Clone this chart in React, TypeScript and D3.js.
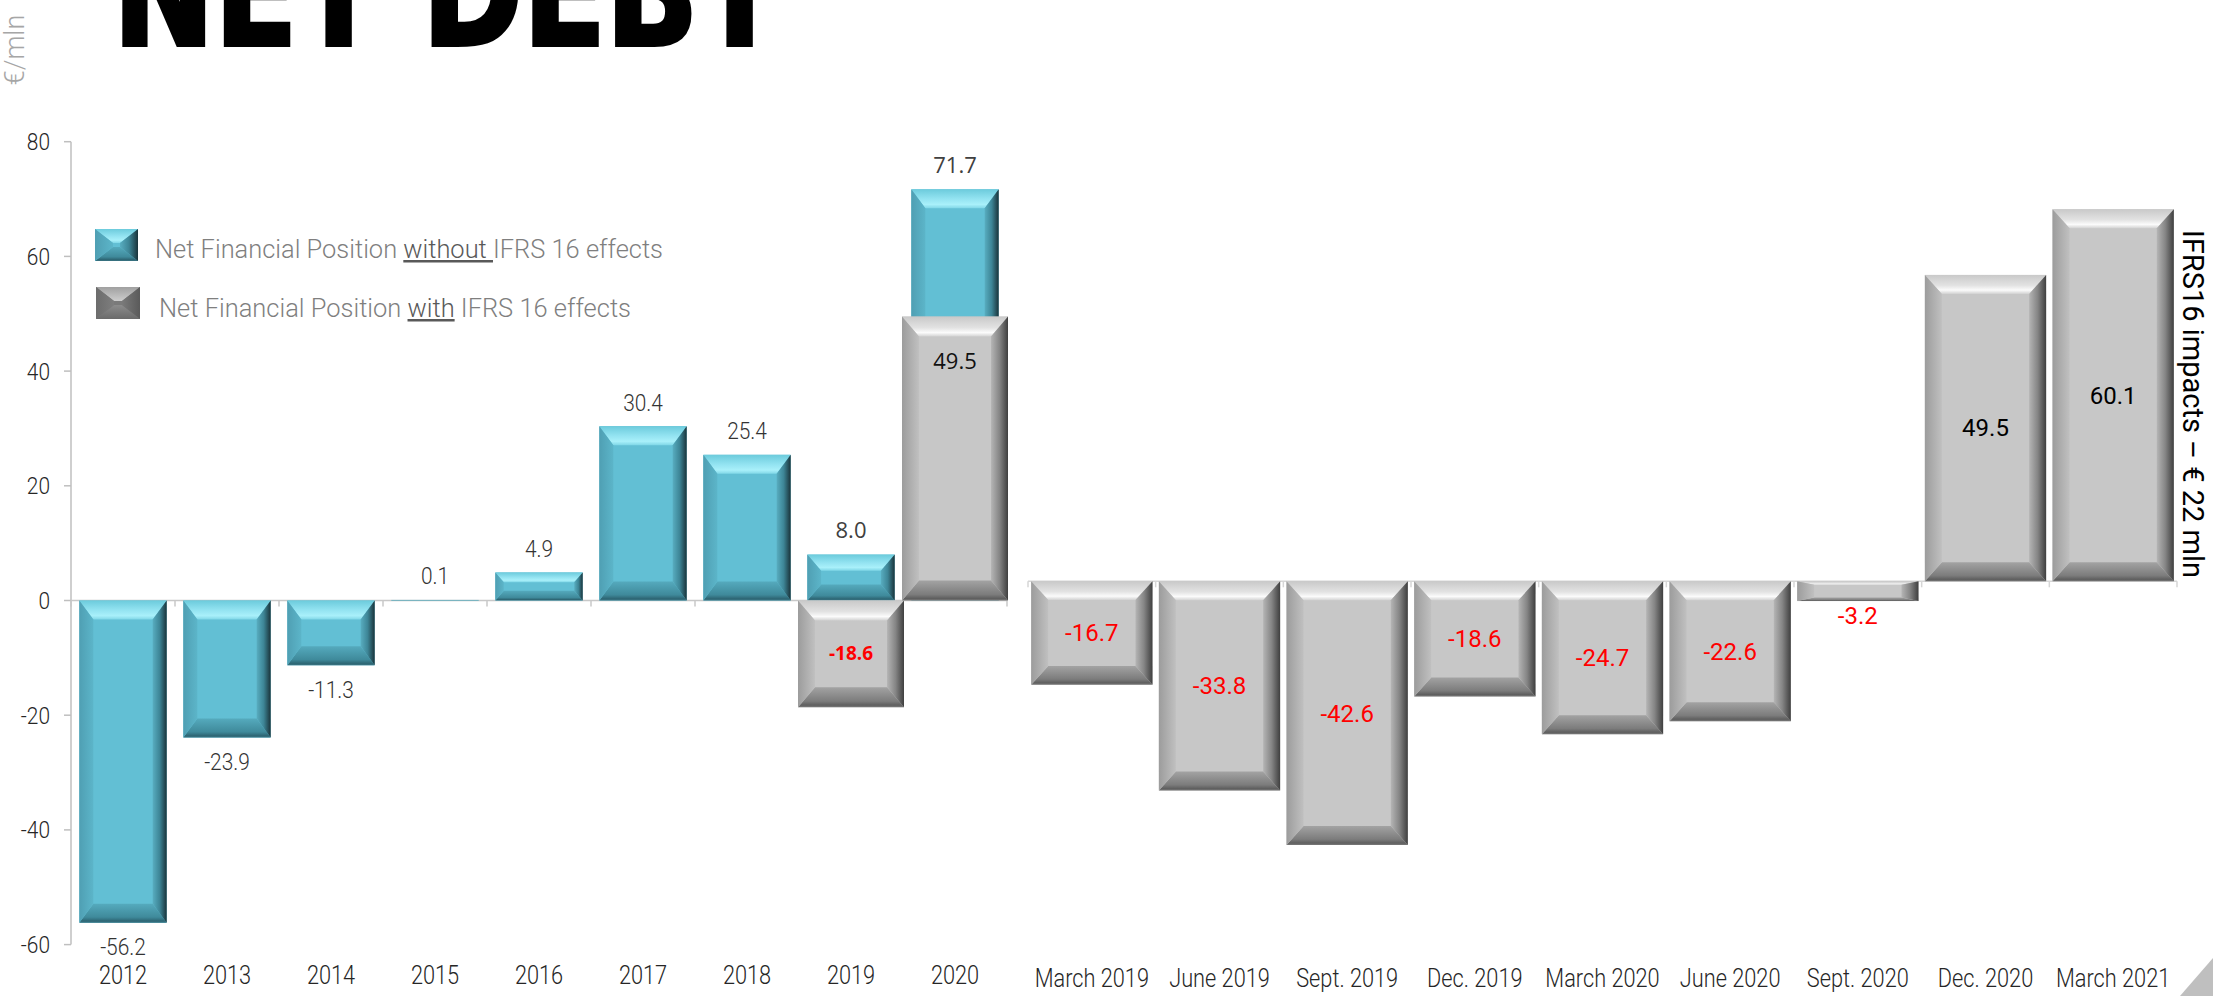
import * as React from 'react';
import * as d3 from 'd3';

// ---- data ----
const YEARS = ['2012', '2013', '2014', '2015', '2016', '2017', '2018', '2019', '2020'];
const NFP_WITHOUT_IFRS16 = [-56.2, -23.9, -11.3, 0.1, 4.9, 30.4, 25.4, 8.0, 71.7];

const OVERLAY_YEARS = ['2019', '2020'];
const NFP_WITH_IFRS16_YEARLY = [-18.6, 49.5];

const QUARTERS = [
  'March 2019', 'June 2019', 'Sept. 2019', 'Dec. 2019', 'March 2020',
  'June 2020', 'Sept. 2020', 'Dec. 2020', 'March 2021',
];
const NFP_WITH_IFRS16_QUARTERLY = [-16.7, -33.8, -42.6, -18.6, -24.7, -22.6, -3.2, 49.5, 60.1];

const Y_TICKS = [-60, -40, -20, 0, 20, 40, 60, 80];

const W = 2213;
const H = 996;

type Stop = [number, string];
type Palette = { face: string; top: Stop[]; bottom: Stop[]; left: Stop[]; right: Stop[] };

const PALETTES: Record<string, Palette> = {
  cyan: {
    face: '#62bfd4',
    top: [[0, '#6ccbdc'], [0.5, '#93e3f1'], [0.8, '#a9f0fa'], [1, '#80d7e7']],
    bottom: [[0, '#55aabd'], [0.7, '#3f8a9b'], [0.9, '#2e6775'], [1, '#3b7584']],
    left: [[0, '#4f9fb3'], [1, '#5cb5c9']],
    right: [[0, '#58adc0'], [0.5, '#3d8596'], [1, '#1a333a']],
  },
  gray: {
    face: '#c7c7c7',
    top: [[0, '#c9c9c9'], [0.55, '#e2e2e2'], [0.8, '#fbfbfb'], [1, '#d2d2d2']],
    bottom: [[0, '#a3a3a3'], [0.7, '#7c7c7c'], [0.9, '#5f5f5f'], [1, '#7a7a7a']],
    left: [[0, '#9c9c9c'], [1, '#c0c0c0']],
    right: [[0, '#b5b5b5'], [0.5, '#858585'], [1, '#3f3f3f']],
  },
  grayDark: {
    face: '#7a7a7a',
    top: [[0, '#a0a0a0'], [1, '#cdcdcd']],
    bottom: [[0, '#8c8c8c'], [1, '#6a6a6a']],
    left: [[0, '#6c6c6c'], [1, '#7e7e7e']],
    right: [[0, '#7a7a7a'], [1, '#5a5a5a']],
  },
};

function Gradients() {
  return (
    <defs>
      {Object.entries(PALETTES).map(([key, p]) => (
        <React.Fragment key={key}>
          <linearGradient id={`${key}-top`} x1="0" y1="0" x2="0" y2="1">
            {p.top.map(([o, c], i) => <stop key={i} offset={o} stopColor={c} />)}
          </linearGradient>
          <linearGradient id={`${key}-bottom`} x1="0" y1="0" x2="0" y2="1">
            {p.bottom.map(([o, c], i) => <stop key={i} offset={o} stopColor={c} />)}
          </linearGradient>
          <linearGradient id={`${key}-left`} x1="0" y1="0" x2="1" y2="0">
            {p.left.map(([o, c], i) => <stop key={i} offset={o} stopColor={c} />)}
          </linearGradient>
          <linearGradient id={`${key}-right`} x1="0" y1="0" x2="1" y2="0">
            {p.right.map(([o, c], i) => <stop key={i} offset={o} stopColor={c} />)}
          </linearGradient>
        </React.Fragment>
      ))}
    </defs>
  );
}

// bar with a bevelled border, like the office "circle" bevel
function BevelBar(props: { x: number; y: number; w: number; h: number; tv: number; th: number; pal: string }) {
  const { x, y, w, h, pal } = props;
  if (h <= 0.5) return null;
  const tv = Math.min(props.tv, h / 2);
  const th = Math.min(props.th, w / 2);
  const pts = (a: number[][]) => a.map((p) => p.join(',')).join(' ');
  return (
    <g>
      <rect x={x} y={y} width={w} height={h} fill={PALETTES[pal].face} />
      <polygon fill={`url(#${pal}-top)`} points={pts([[x, y], [x + w, y], [x + w - th, y + tv], [x + th, y + tv]])} />
      <polygon fill={`url(#${pal}-bottom)`} points={pts([[x + th, y + h - tv], [x + w - th, y + h - tv], [x + w, y + h], [x, y + h]])} />
      <polygon fill={`url(#${pal}-left)`} points={pts([[x, y], [x + th, y + tv], [x + th, y + h - tv], [x, y + h]])} />
      <polygon fill={`url(#${pal}-right)`} points={pts([[x + w - th, y + tv], [x + w, y], [x + w, y + h], [x + w - th, y + h - tv]])} />
    </g>
  );
}

const COND = "Roboto, 'Noto Sans', sans-serif";
const SX = 0.87;

function CondText(props: { x: number; y: number; size: number; fill: string; anchor?: string; children: React.ReactNode }) {
  const { x, y, size, fill, anchor = 'middle', children } = props;
  return (
    <text
      transform={`translate(${x},${y}) scale(${SX},1)`}
      fontFamily={COND}
      fontWeight={300}
      fontSize={size}
      fill={fill}
      textAnchor={anchor}
      dy="0.35em"
    >
      {children}
    </text>
  );
}

export default function App() {
  const yL = d3.scaleLinear().domain([-60, 80]).range([944.6, 141.7]);
  const yR = d3.scaleLinear().domain([-60, 80]).range([952.7, 86.1]);
  const xL = d3.scaleBand().domain(YEARS).range([71, 1007]).paddingInner(0.16).paddingOuter(0.08);
  const xR = d3.scaleBand().domain(QUARTERS).range([1028, 2177]).paddingInner(0.05).paddingOuter(0.025);

  const gapL = xL.step() * xL.paddingInner();
  const gapR = xR.step() * xR.paddingInner();
  const leftTicks = YEARS.map((d) => (xL(d) as number) - gapL / 2).concat([(xL(YEARS[8]) as number) + xL.bandwidth() + gapL / 2]);
  const rightTicks = QUARTERS.map((d) => (xR(d) as number) - gapR / 2).concat([(xR(QUARTERS[8]) as number) + xR.bandwidth() + gapR / 2]);

  const axisColor = '#c8c8c8';

  return (
    <svg width={W} height={H} style={{ position: 'absolute', left: 0, top: 0, background: '#fff' }}>
      <Gradients />
      <rect width={W} height={H} fill="#fff" />

      {/* title, cut by the top of the slide */}
      <text
        x={113}
        y={45}
        fontFamily="'Liberation Sans Narrow', 'DejaVu Sans Condensed', 'Liberation Sans', sans-serif"
        fontWeight={700}
        fontSize={150}
        textLength={668}
        lengthAdjust="spacingAndGlyphs"
        fill="#000"
        stroke="#000"
        strokeWidth={4}
      >
        NET DEBT
      </text>

      <text
        transform="translate(15,50) rotate(-90)"
        fontFamily={COND}
        fontWeight={300}
        fontSize={27}
        fill="#a6a6a6"
        textAnchor="middle"
        dy="0.35em"
      >
        €/mln
      </text>

      {/* y axis */}
      <line x1={71} x2={71} y1={yL(80)} y2={yL(-60)} stroke="#bfbfbf" strokeWidth={1.5} />
      {Y_TICKS.map((t) => (
        <g key={t}>
          <line x1={64} x2={71} y1={yL(t)} y2={yL(t)} stroke="#bfbfbf" strokeWidth={1.5} />
          <CondText x={50} y={yL(t)} size={24} fill="#262626" anchor="end">{t}</CondText>
        </g>
      ))}

      {/* left x axis at zero */}
      <line x1={71} x2={leftTicks[leftTicks.length - 1]} y1={yL(0)} y2={yL(0)} stroke={axisColor} strokeWidth={1.5} />
      {leftTicks.map((t, i) => (
        <line key={i} x1={t} x2={t} y1={yL(0)} y2={yL(0) + 6} stroke={axisColor} strokeWidth={1.5} />
      ))}

      {/* yearly bars without IFRS16 */}
      {YEARS.map((yr, i) => {
        const v = NFP_WITHOUT_IFRS16[i];
        const y0 = yL(Math.max(0, v));
        const h = Math.abs(yL(v) - yL(0));
        return (
          <BevelBar key={yr} x={xL(yr) as number} y={y0} w={xL.bandwidth()} h={h}
            tv={Math.min(19, h * 0.35)} th={Math.min(14, h * 0.3)} pal="cyan" />
        );
      })}

      {/* yearly bars with IFRS16 (overlay) */}
      {OVERLAY_YEARS.map((yr, i) => {
        const v = NFP_WITH_IFRS16_YEARLY[i];
        const y0 = yL(Math.max(0, v));
        const h = Math.abs(yL(v) - yL(0));
        const x = (xL(yr) as number) - (xL.step() - xL.bandwidth()) / 2 - 1;
        const w = xL.step() + 2;
        return (
          <BevelBar key={yr} x={x} y={y0} w={w} h={h}
            tv={Math.min(20, h * 0.22)} th={Math.min(17, w * 0.16)} pal="gray" />
        );
      })}

      {/* yearly labels */}
      {YEARS.map((yr, i) => {
        const v = NFP_WITHOUT_IFRS16[i];
        const cx = (xL(yr) as number) + xL.bandwidth() / 2;
        const cy = v >= 0 ? yL(v) - 24 : yL(v) + 24;
        const label = v.toFixed(1);
        if (OVERLAY_YEARS.includes(yr)) {
          return (
            <text key={yr} x={cx} y={cy} dy="0.35em" textAnchor="middle"
              fontFamily="'Open Sans', sans-serif" fontSize={22} fill="#404040">{label}</text>
          );
        }
        return <CondText key={yr} x={cx} y={cy} size={24} fill="#333">{label}</CondText>;
      })}
      {OVERLAY_YEARS.map((yr, i) => {
        const v = NFP_WITH_IFRS16_YEARLY[i];
        const cx = (xL(yr) as number) + xL.bandwidth() / 2;
        if (v < 0) {
          return (
            <text key={yr} x={cx} y={(yL(0) + yL(v)) / 2} dy="0.35em" textAnchor="middle"
              fontFamily="'Open Sans', sans-serif" fontWeight={700} fontSize={19} fill="#ff0000">{v.toFixed(1)}</text>
          );
        }
        return (
          <text key={yr} x={cx} y={yL(v) + 45} dy="0.35em" textAnchor="middle"
            fontFamily="'Open Sans', sans-serif" fontSize={22} fill="#111">{v.toFixed(1)}</text>
        );
      })}

      {YEARS.map((yr) => (
        <CondText key={yr} x={(xL(yr) as number) + xL.bandwidth() / 2} y={975} size={25} fill="#262626">{yr}</CondText>
      ))}

      {/* quarterly panel */}
      <line x1={rightTicks[0]} x2={rightTicks[rightTicks.length - 1]} y1={yR(0)} y2={yR(0)} stroke="#d6d6d6" strokeWidth={1.5} />
      {rightTicks.map((t, i) => (
        <line key={i} x1={t} x2={t} y1={yR(0)} y2={yR(0) + 6} stroke="#d6d6d6" strokeWidth={1.5} />
      ))}
      {QUARTERS.map((q, i) => {
        const v = NFP_WITH_IFRS16_QUARTERLY[i];
        const y0 = yR(Math.max(0, v));
        const h = Math.abs(yR(v) - yR(0));
        const w = xR.bandwidth();
        return (
          <BevelBar key={q} x={xR(q) as number} y={y0} w={w} h={h}
            tv={Math.min(19, h * 0.18)} th={Math.min(17, w * 0.15)} pal="gray" />
        );
      })}
      {QUARTERS.map((q, i) => {
        const v = NFP_WITH_IFRS16_QUARTERLY[i];
        const cx = (xR(q) as number) + xR.bandwidth() / 2;
        const h = Math.abs(yR(v) - yR(0));
        const cy = h > 40 ? (yR(0) + yR(v)) / 2 : yR(v) + 14;
        return (
          <text key={q} x={cx} y={cy} dy="0.35em" textAnchor="middle"
            fontFamily="Roboto, sans-serif" fontSize={24} fill={v < 0 ? '#ff0000' : '#000'}>{v.toFixed(1)}</text>
        );
      })}
      {QUARTERS.map((q) => (
        <CondText key={q} x={(xR(q) as number) + xR.bandwidth() / 2} y={978} size={25} fill="#262626">{q}</CondText>
      ))}

      <text
        transform="translate(2193,404) rotate(90)"
        fontFamily="Roboto, sans-serif"
        fontSize={29}
        fill="#000"
        textAnchor="middle"
        dy="0.35em"
      >
        IFRS16 impacts – € 22 mln
      </text>

      {/* legend */}
      <BevelBar x={95} y={229} w={43} h={32} tv={14} th={18} pal="cyan" />
      <text x={155} y={258} fontFamily={COND} fontWeight={300} fontSize={25} fill="#7f7f7f"
        textLength={508} lengthAdjust="spacingAndGlyphs">
        Net Financial Position{' '}
        <tspan textDecoration="underline" fill="#595959">without </tspan>
        IFRS 16 effects
      </text>
      <BevelBar x={96} y={287} w={44} h={32} tv={14} th={18} pal="grayDark" />
      <text x={159} y={317} fontFamily={COND} fontWeight={300} fontSize={25} fill="#7f7f7f"
        textLength={472} lengthAdjust="spacingAndGlyphs">
        Net Financial Position{' '}
        <tspan textDecoration="underline" fill="#595959">with</tspan>
        {' '}IFRS 16 effects
      </text>

      {/* slide corner decoration */}
      <polygon points="2180,996 2213,958 2213,996" fill="#bfbfbf" />
    </svg>
  );
}
